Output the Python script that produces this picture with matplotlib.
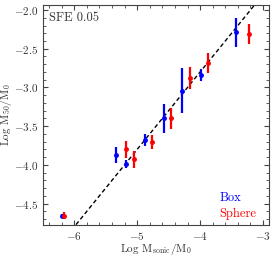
import numpy as np
import matplotlib.pyplot as plt
from matplotlib.ticker import AutoMinorLocator

plt.rcParams['font.family'] = 'serif'
plt.rcParams['font.serif'] = ['cmr10', 'DejaVu Serif']
plt.rcParams['mathtext.fontset'] = 'cm'
plt.rcParams['axes.formatter.use_mathtext'] = True

# 数据 (Box / Sphere)
box_x = [-6.19, -5.34, -5.17, -4.87, -4.58, -4.28, -3.98, -3.43]
box_y = [-4.66, -3.87, -3.99, -3.68, -3.40, -3.04, -2.84, -2.29]
box_err = [0.03, 0.10, 0.05, 0.08, 0.19, 0.29, 0.08, 0.19]

sph_x = [-6.16, -5.18, -5.05, -4.76, -4.46, -4.16, -3.87, -3.23]
sph_y = [-4.655, -3.80, -3.93, -3.71, -3.40, -2.88, -2.68, -2.31]
sph_err = [0.045, 0.11, 0.11, 0.09, 0.14, 0.14, 0.13, 0.135]

# 拟合线 y = x + b
slope = 1.0
intercept = 1.2

fig = plt.figure(figsize=(2.74, 2.56), dpi=100)
ax = fig.add_axes([0.156, 0.12, 0.827, 0.862])

xx = np.array([-6.5, -2.9])
ax.plot(xx, slope * xx + intercept, ls=(0, (3, 2)), color='k', lw=1.0, zorder=1)

ax.errorbar(box_x, box_y, yerr=box_err, fmt='o', color='blue', ms=2.5,
            elinewidth=1.6, capsize=0, zorder=3)
ax.errorbar(sph_x, sph_y, yerr=sph_err, fmt='o', color='red', ms=2.5,
            elinewidth=1.6, capsize=0, zorder=3)

ax.set_xlim(-6.5, -2.9)
ax.set_ylim(-4.78, -1.93)
ax.set_xticks([-6, -5, -4, -3])
ax.set_yticks([-4.5, -4.0, -3.5, -3.0, -2.5, -2.0])
ax.xaxis.set_minor_locator(AutoMinorLocator())
ax.yaxis.set_minor_locator(AutoMinorLocator())
ax.tick_params(which='both', direction='in', top=True, right=True,
               labelsize=8, color='#444444', labelcolor='#333333')
ax.tick_params(which='major', length=3.5)
ax.tick_params(which='minor', length=2)
for s in ax.spines.values():
    s.set_color('#444444')

ax.set_xlabel(r'Log M$_{\rm sonic}$/M$_0$', fontsize=8, color='#333333')
ax.set_ylabel(r'Log M$_{50}$/M$_0$', fontsize=8, color='#333333')
ax.xaxis.set_label_coords(0.5, -0.075)
ax.yaxis.set_label_coords(-0.128, 0.5)

ax.text(0.028, 0.965, 'SFE 0.05', transform=ax.transAxes, fontsize=9,
        va='top', ha='left', color='#333333')
ax.text(0.778, 0.124, 'Box', transform=ax.transAxes, fontsize=9,
        va='center', ha='left', color='blue')
ax.text(0.778, 0.051, 'Sphere', transform=ax.transAxes, fontsize=9,
        va='center', ha='left', color='red')

fig.savefig('out.png', dpi=100)
